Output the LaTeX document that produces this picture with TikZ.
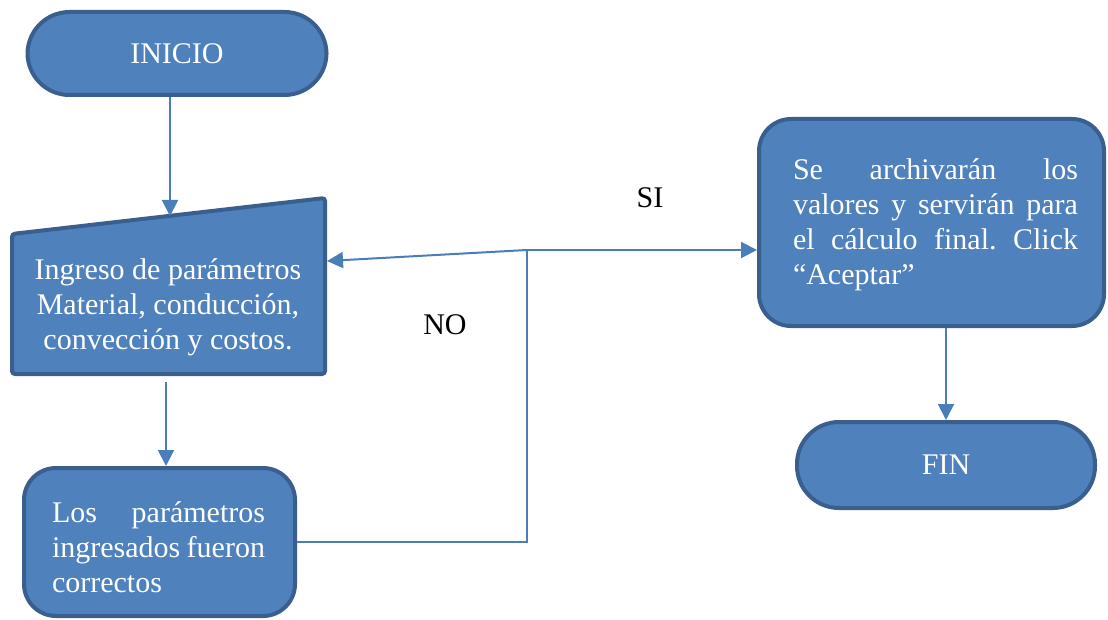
\documentclass[tikz,border=0pt]{standalone}
\usepackage{fontspec}
\setmainfont{Liberation Serif}
\usetikzlibrary{arrows.meta}

\definecolor{boxfill}{HTML}{4F81BD}
\definecolor{boxedge}{HTML}{3A5F8E}
\definecolor{linkblue}{HTML}{4A7EBB}

% a justified line of given width: words spread with \hfill
\newcommand{\justline}[2]{\makebox[#1][l]{#2}}

\begin{document}
\begin{tikzpicture}[x=0.5pt,y=-0.5pt,
  every node/.style={font=\fontsize{15}{17.5}\selectfont, inner sep=0pt},
  shapebox/.style={fill=boxfill, draw=boxedge, line width=2pt},
  terminal/.style={shapebox, rectangle, rounded corners=21pt},
  process/.style={shapebox, rectangle, rounded corners=16pt},
  intext/.style={text=white},
  link/.style={draw=linkblue, line width=1pt},
  arrow/.style={link, -{Triangle[length=8pt,width=8pt]}},
  label/.style={text=black}]

  \useasboundingbox (0,0) rectangle (1108,620);

  % start and end terminals
  \node[terminal, minimum width=149.5pt, minimum height=41.5pt, intext] (inicio) at (177,53.5) {INICIO};
  \node[terminal, minimum width=149pt, minimum height=43pt, intext] (fin) at (946,465) {FIN};

  % manual input: parameters
  \coordinate (inTL) at (12,234);
  \coordinate (inTR) at (325,198);
  \coordinate (inBR) at (325,374);
  \coordinate (inBL) at (12,374);
  \draw[shapebox, rounded corners=1.5pt] (inTL) -- (inTR) -- (inBR) -- (inBL) -- cycle;
  \node[intext, align=center] (ingreso) at (168,307)
    {Ingreso de parámetros\\Material, conducción,\\convección y costos.};
  \coordinate (ingtop) at (170,216);
  \coordinate (ingbot) at (166,382);
  \coordinate (ingright) at (327,261);

  % check of the entered parameters
  \node[process, minimum width=135.5pt, minimum height=74pt] (los) at (159.5,542) {};
  \node[intext, align=left] (lostext) at (158.5,547)
    {\justline{106.5pt}{Los\hfill parámetros}\\
     \justline{106.5pt}{ingresados\hfill fueron}\\
     \justline{106.5pt}{correctos}};

  % storing the values
  \node[process, minimum width=172.5pt, minimum height=103.5pt] (se) at (931.5,222.5) {};
  \node[intext, align=left] (setext) at (935.5,225)
    {\justline{142.5pt}{Se\hfill archivarán\hfill los}\\
     \justline{142.5pt}{valores\hfill y\hfill servirán\hfill para}\\
     \justline{142.5pt}{el\hfill cálculo\hfill final.\hfill Click}\\
     \justline{142.5pt}{“Aceptar”}};

  % branch point
  \coordinate (split) at (527,250);

  % connectors
  \draw[arrow] (inicio.south -| ingtop) -- (ingtop);
  \draw[arrow] (ingbot) -- (ingbot |- los.north);
  \draw[link] (los.east) -| (split);
  \draw[arrow] (split) -- (ingright);
  \draw[arrow] (split) -- (split -| se.west);
  \draw[arrow] (fin.north |- se.south) -- (fin.north);

  % branch labels
  \node[label] (si) at (650,198) {SI};
  \node[label] (no) at (445,325) {NO};
\end{tikzpicture}
\end{document}
